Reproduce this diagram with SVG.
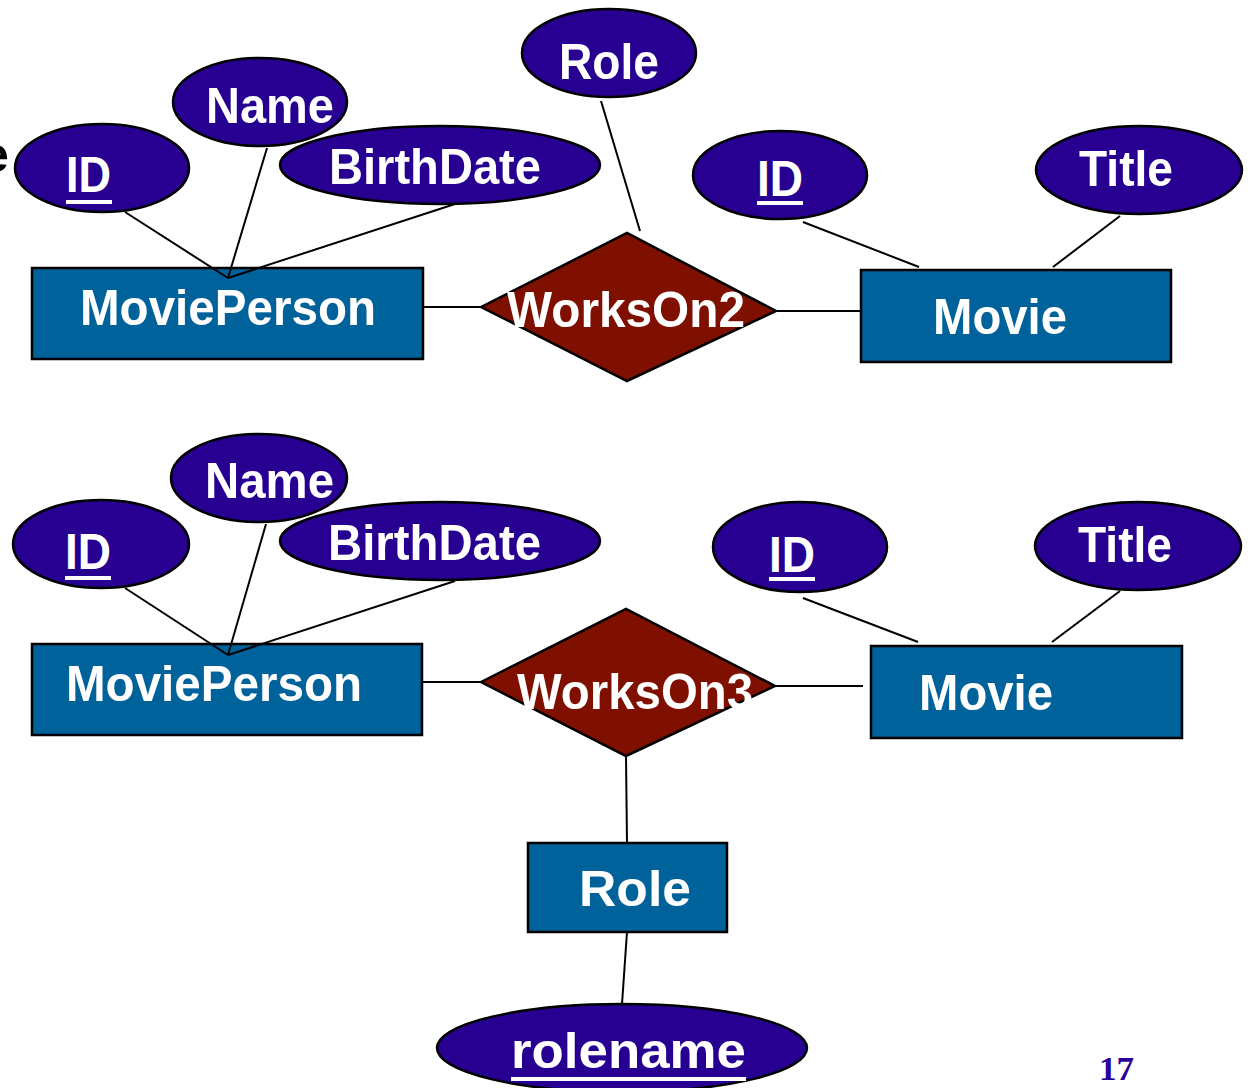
<svg xmlns="http://www.w3.org/2000/svg" width="1252" height="1088" viewBox="0 0 1252 1088">
<style>
.attr{fill:#280091;stroke:#000;stroke-width:2.5}
.ent{fill:#00629b;stroke:#000;stroke-width:2.5}
.rel{fill:#7f1000;stroke:#000;stroke-width:2.5}
.t{font-family:"Liberation Sans",Arial,sans-serif;font-weight:bold;fill:#fff;font-size:50px}
.u{stroke:#fff;stroke-width:4}
.ln{stroke:#000;stroke-width:2;fill:none}
</style>
<rect width="1252" height="1088" fill="#fff"/>
<text x="-19" y="172" font-family="Liberation Sans,Arial,sans-serif" font-weight="bold" font-size="50" fill="#000">e</text>
<g id="id1"><ellipse class="attr" cx="102" cy="168" rx="87" ry="44"/><text class="t" x="66" y="192" textLength="45" lengthAdjust="spacingAndGlyphs">ID</text><line class="u" x1="66" y1="202" x2="112" y2="202"/></g>
<g id="name1"><ellipse class="attr" cx="260" cy="102" rx="87" ry="44"/><text class="t" x="206" y="123" textLength="128" lengthAdjust="spacingAndGlyphs">Name</text></g>
<g id="birth1"><ellipse class="attr" cx="440" cy="165" rx="160" ry="39"/><text class="t" x="329" y="184" textLength="212" lengthAdjust="spacingAndGlyphs">BirthDate</text></g>
<g id="role1"><ellipse class="attr" cx="609" cy="53" rx="87" ry="44"/><text class="t" x="559" y="79" textLength="100" lengthAdjust="spacingAndGlyphs">Role</text></g>
<g id="id2"><ellipse class="attr" cx="780" cy="175" rx="87" ry="44"/><text class="t" x="757" y="196" textLength="46" lengthAdjust="spacingAndGlyphs">ID</text><line class="u" x1="757" y1="203" x2="803" y2="203"/></g>
<g id="title1"><ellipse class="attr" cx="1139" cy="170" rx="103" ry="44"/><text class="t" x="1079" y="186" textLength="94" lengthAdjust="spacingAndGlyphs">Title</text></g>
<g id="movieperson1"><rect class="ent" x="32" y="268" width="391" height="91"/><text class="t" x="80" y="325" textLength="296" lengthAdjust="spacingAndGlyphs">MoviePerson</text></g>
<g id="workson2"><polygon class="rel" points="481,307 627,233 776,311 627,381"/><text class="t" x="507" y="327" textLength="238" lengthAdjust="spacingAndGlyphs">WorksOn2</text></g>
<g id="movie1"><rect class="ent" x="861" y="270" width="310" height="92"/><text class="t" x="933" y="334" textLength="134" lengthAdjust="spacingAndGlyphs">Movie</text></g>
<g id="id3"><ellipse class="attr" cx="101" cy="544" rx="88" ry="44"/><text class="t" x="65" y="569" textLength="46" lengthAdjust="spacingAndGlyphs">ID</text><line class="u" x1="65" y1="578" x2="111" y2="578"/></g>
<g id="name2"><ellipse class="attr" cx="259" cy="478" rx="88" ry="44"/><text class="t" x="205" y="498" textLength="129" lengthAdjust="spacingAndGlyphs">Name</text></g>
<g id="birth2"><ellipse class="attr" cx="440" cy="541" rx="160" ry="39"/><text class="t" x="328" y="560" textLength="213" lengthAdjust="spacingAndGlyphs">BirthDate</text></g>
<g id="id4"><ellipse class="attr" cx="800" cy="547" rx="87" ry="45"/><text class="t" x="769" y="572" textLength="46" lengthAdjust="spacingAndGlyphs">ID</text><line class="u" x1="769" y1="579" x2="815" y2="579"/></g>
<g id="title2"><ellipse class="attr" cx="1138" cy="546" rx="103" ry="44"/><text class="t" x="1078" y="562" textLength="94" lengthAdjust="spacingAndGlyphs">Title</text></g>
<g id="movieperson2"><rect class="ent" x="32" y="644" width="390" height="91"/><text class="t" x="66" y="701" textLength="296" lengthAdjust="spacingAndGlyphs">MoviePerson</text></g>
<g id="workson3"><polygon class="rel" points="481,682 626,609 775,686 626,756"/><text class="t" x="517" y="709" textLength="236" lengthAdjust="spacingAndGlyphs">WorksOn3</text></g>
<g id="movie2"><rect class="ent" x="871" y="646" width="311" height="92"/><text class="t" x="919" y="710" textLength="134" lengthAdjust="spacingAndGlyphs">Movie</text></g>
<g id="role2"><rect class="ent" x="528" y="843" width="199" height="89"/><text class="t" x="579" y="906" textLength="112" lengthAdjust="spacingAndGlyphs">Role</text></g>
<g id="rolename"><ellipse class="attr" cx="622" cy="1048" rx="185" ry="44"/><text class="t" x="511" y="1068" textLength="235" lengthAdjust="spacingAndGlyphs">rolename</text><line class="u" x1="511" y1="1079" x2="746" y2="1079"/></g>
<g id="connectors">
<line class="ln" x1="125" y1="212" x2="228" y2="278"/>
<line class="ln" x1="267" y1="148" x2="228" y2="278"/>
<line class="ln" x1="455" y1="204" x2="228" y2="278"/>
<line class="ln" x1="601" y1="101" x2="640" y2="231"/>
<line class="ln" x1="423" y1="307" x2="481" y2="307"/>
<line class="ln" x1="776" y1="311" x2="861" y2="311"/>
<line class="ln" x1="803" y1="222" x2="919" y2="267"/>
<line class="ln" x1="1120" y1="216" x2="1053" y2="267"/>
<line class="ln" x1="125" y1="588" x2="228" y2="655"/>
<line class="ln" x1="266" y1="524" x2="228" y2="655"/>
<line class="ln" x1="455" y1="581" x2="228" y2="655"/>
<line class="ln" x1="422" y1="682" x2="481" y2="682"/>
<line class="ln" x1="775" y1="686" x2="863" y2="686"/>
<line class="ln" x1="803" y1="598" x2="918" y2="642"/>
<line class="ln" x1="1120" y1="591" x2="1052" y2="642"/>
<line class="ln" x1="626" y1="756" x2="627" y2="843"/>
<line class="ln" x1="627" y1="932" x2="622" y2="1004"/>
</g>
<text x="1099" y="1080" font-family="Liberation Serif,'Times New Roman',serif" font-weight="bold" font-size="34" fill="#2a0096" textLength="35" lengthAdjust="spacingAndGlyphs">17</text>
</svg>
